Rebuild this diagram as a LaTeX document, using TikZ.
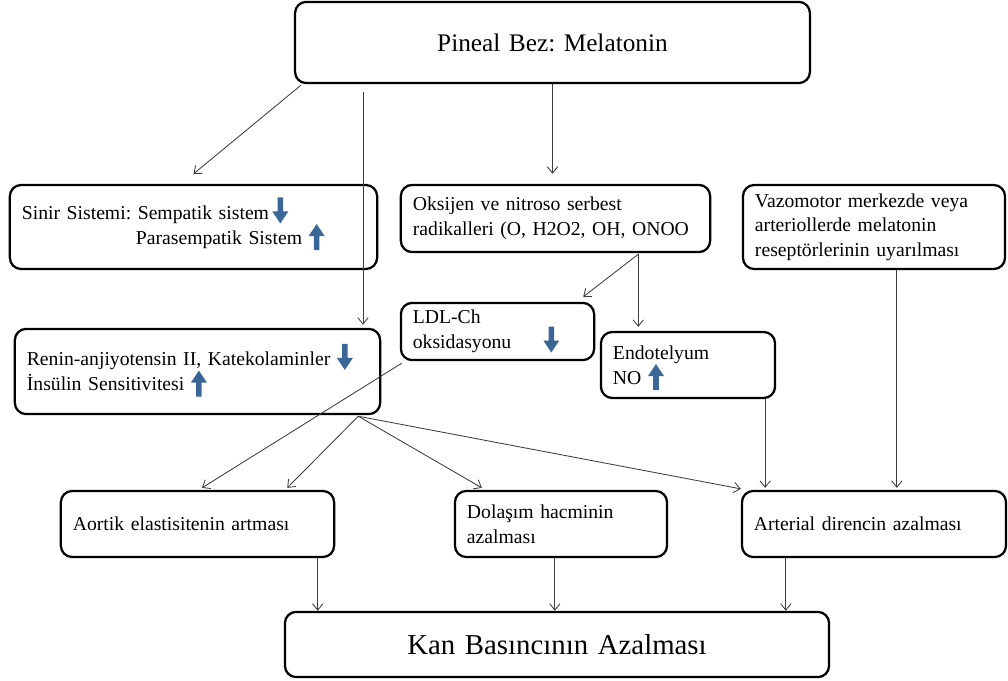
\documentclass[tikz,border=0pt]{standalone}
\usepackage{fontspec}
\setmainfont{Liberation Serif}
\usepackage{tikz}
\usetikzlibrary{arrows.meta, positioning, calc}
\definecolor{mydark}{RGB}{60,60,60}
\definecolor{myblue}{RGB}{58,102,152}
\frenchspacing
\tikzset{
  box/.style={rectangle, draw=black, rounded corners=8pt, line width=1.6pt,
    align=left, inner xsep=0.3cm, inner ysep=0pt,
    font=\fontsize{14}{17.5}\selectfont},
  bigbox/.style={box, align=center},
  arrow/.style={-{Straight Barb[length=1.6mm,width=2.6mm]}, line width=0.6pt, color=mydark}
}
\newcommand{\dnarr}{\smash{\tikz[x=1cm,y=1cm,baseline=0pt,sharp corners]
  \fill[myblue] (-0.07,0.55) -- (0.07,0.55) -- (0.07,0.2) -- (0.2,0.2)
  -- (0,-0.1) -- (-0.2,0.2) -- (-0.07,0.2) -- cycle;}}
\newcommand{\uparr}{\smash{\tikz[x=1cm,y=1cm,baseline=0pt,sharp corners]
  \fill[myblue] (-0.07,-0.15) -- (0.07,-0.15) -- (0.07,0.2) -- (0.2,0.2)
  -- (0,0.5) -- (-0.2,0.2) -- (-0.07,0.2) -- cycle;}}

\begin{document}
\begin{tikzpicture}[x=0.025cm, y=-0.025cm]
  \useasboundingbox (0,0) rectangle (1008,681);
  \node[bigbox, text width=12.27cm, minimum height=2.03cm,
    font=\fontsize{18}{22}\selectfont] (n1) at (552.5,42.5) {Pineal Bez: Melatonin};
  \node[box, text width=8.58cm, minimum height=2.1cm] (n2) at (193.5,227)
    {Sinir Sistemi: Sempatik sistem\,\dnarr\\
     \hspace*{2.85cm}Parasempatik Sistem \uparr};
  \node[box, text width=7.13cm, minimum height=1.68cm] (n3) at (555.5,218.5)
    {Oksijen ve nitroso serbest\\radikalleri (O, H2O2, OH, ONOO};
  \node[box, text width=5.95cm, minimum height=2.1cm] (n4) at (874,227)
    {Vazomotor merkezde veya\\arteriollerde melatonin\\reseptörlerinin uyarılması};
  \node[box, text width=4.23cm, minimum height=1.43cm] (n5) at (497.5,331.5)
    {LDL-Ch\\oksidasyonu\hspace{0.8cm}\dnarr};
  \node[box, text width=3.75cm, minimum height=1.65cm] (n6) at (688,365)
    {Endotelyum\\NO \uparr};
  \node[box, text width=8.53cm, minimum height=2.13cm] (n7) at (197.5,371.5)
    {Renin-anjiyotensin II, Katekolaminler \dnarr\\
     İnsülin Sensitivitesi \uparr};
  \node[box, text width=6.23cm, minimum height=1.65cm] (n8) at (197.5,524)
    {Aortik elastisitenin artması};
  \node[box, text width=4.7cm, minimum height=1.65cm] (n9) at (561,524)
    {Dolaşım hacminin\\azalması};
  \node[box, text width=6.0cm, minimum height=1.65cm] (n10) at (874,524)
    {Arterial direncin azalması};
  \node[bigbox, text width=13.0cm, minimum height=1.63cm,
    font=\fontsize{20.5}{25}\selectfont] (n11) at (557,644.5) {Kan Basıncının Azalması};

  \coordinate (c1) at (363,92);
  \coordinate (c2) at ($(n3.south east)+(-73,1)$);
  \coordinate (c3) at ($(n7.south east)+(-23,1)$);

  \draw[arrow] ($(n1.south west)+(7,1)$) -- ($(n2.north)+(0,-10)$);
  \draw[arrow] (c1) -- ($(c1 |- n7.north)+(0,-3)$);
  \draw[arrow] (n1.south) -- ($(n1.south |- n3.north)+(0,-10)$);
  \draw[arrow] (c2) -- ($(n5.north east)+(-12,-5)$);
  \draw[arrow] (c2) -- ($(c2 |- n6.north)+(0,-4)$);
  \draw[arrow] ($(n5.south west)+(2,2)$) -- ($(n8.north)+(4.5,-2)$);
  \draw[arrow] (c3) -- ($(n8.north east)+(-48,-2)$);
  \draw[arrow] (c3) -- ($(n9.north west)+(28,-2)$);
  \draw[arrow] (c3) -- ($(n10.north west)+(0,-1)$);
  \draw[arrow] ($(n6.south east)+(-11,0)$) coordinate (c4) -- ($(c4 |- n10.north)+(0,-2)$);
  \draw[arrow] ($(n4.south west)+(155,0)$) coordinate (c5) -- ($(c5 |- n10.north)+(0,-2)$);
  \draw[arrow] ($(n8.south west)+(258,0)$) coordinate (c6) -- (c6 |- n11.north);
  \draw[arrow] ($(n9.south west)+(101,0)$) coordinate (c7) -- (c7 |- n11.north);
  \draw[arrow] ($(n10.south west)+(45,0)$) coordinate (c8) -- (c8 |- n11.north);
\end{tikzpicture}
\end{document}
